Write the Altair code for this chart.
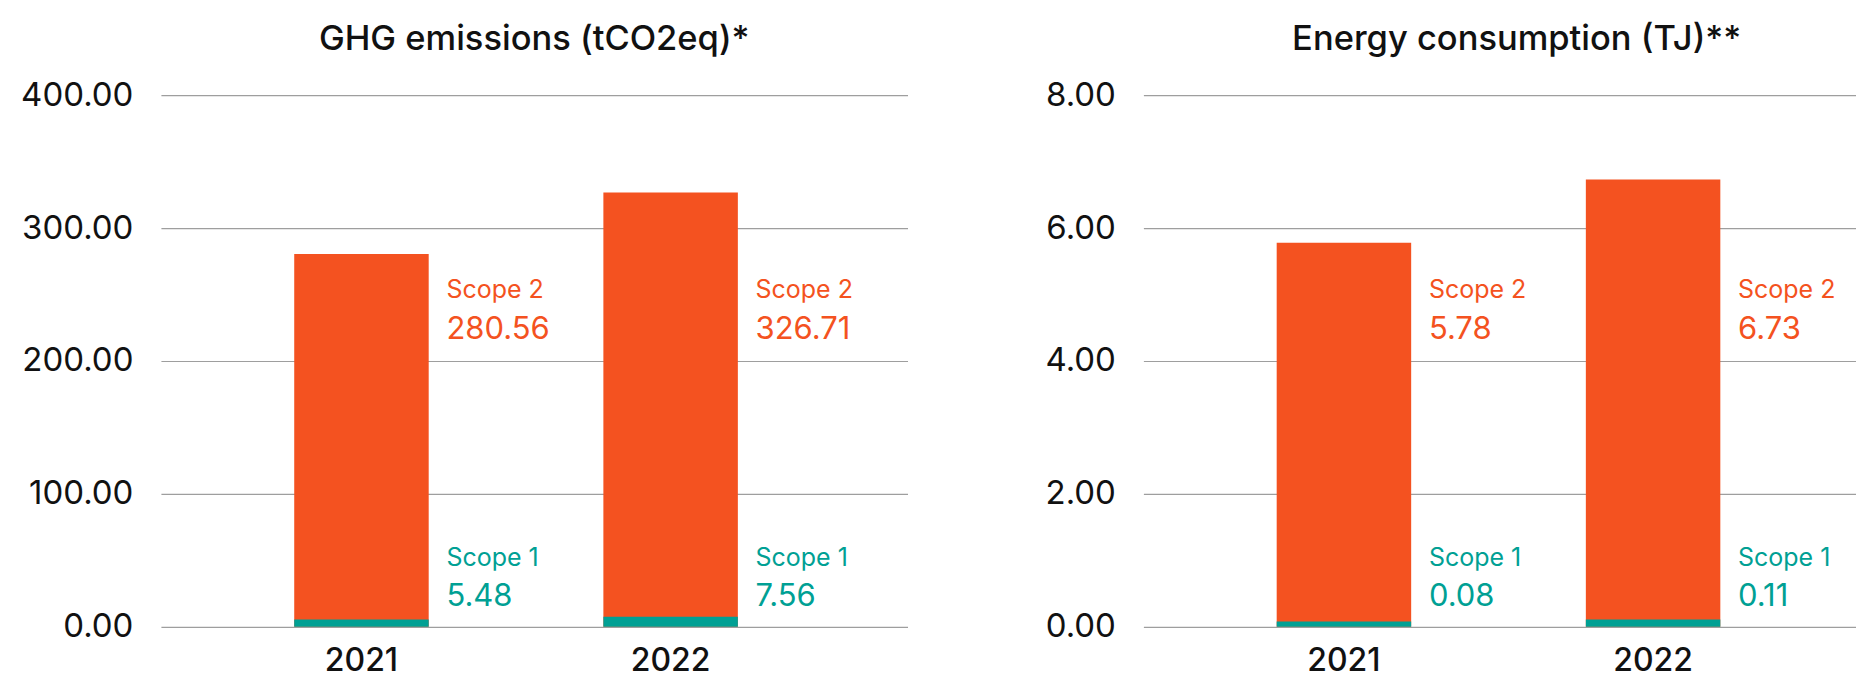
import altair as alt
import pandas as pd

years = ["2021", "2022"]
ghg_scope1 = [5.48, 7.56]
ghg_scope2 = [280.56, 326.71]
energy_scope1 = [0.08, 0.11]
energy_scope2 = [5.78, 6.73]
ghg_ticks = [0, 100, 200, 300, 400]
energy_ticks = [0, 2, 4, 6, 8]
ghg_title = "GHG emissions (tCO2eq)*"
energy_title = "Energy consumption (TJ)**"

ORANGE = "#F45220"
TEAL = "#00A094"
INK = "#111111"
FONT = "Inter"


def panel(title, s1, s2, ticks, width):
    df = pd.DataFrame({"year": years, "s1": s1, "s2": s2})
    base = alt.Chart(df).encode(
        x=alt.X(
            "year:N",
            sort=years,
            scale=alt.Scale(paddingInner=0.565, paddingOuter=0.49, align=0.44),
            axis=alt.Axis(
                title=None, labelAngle=0, labelFontSize=32, labelFont=FONT,
                labelColor=INK, labelFontWeight=500, labelPadding=19,
                ticks=False, domain=False, grid=False,
            ),
        )
    )
    ysc = alt.Scale(domain=[ticks[0], ticks[-1]], nice=False)
    yax = alt.Axis(
        title=None, values=ticks, format=".2f", labelFontSize=33, labelFont=FONT,
        labelColor=INK, labelPadding=28, ticks=False, domain=False, grid=True,
        gridColor="#9e9e9e", gridWidth=1.2,
    )
    bar2 = base.mark_bar(color=ORANGE).encode(y=alt.Y("s2:Q", scale=ysc, axis=yax))
    bar1 = base.mark_bar(color=TEAL).encode(y=alt.Y("s1:Q", scale=ysc))

    def label(txt, ypix, color):
        return base.mark_text(
            align="left", baseline="alphabetic", dx=85, fontSize=25,
            font=FONT, color=color, text=txt,
        ).encode(y=alt.value(ypix))

    def value(field, ypix, color):
        return base.mark_text(
            align="left", baseline="alphabetic", dx=85, fontSize=31,
            font=FONT, color=color,
        ).encode(y=alt.value(ypix), text=alt.Text(f"{field}:Q", format=".2f"))

    return alt.layer(
        bar2, bar1,
        label("Scope 2", 203, ORANGE),
        value("s2", 244, ORANGE),
        label("Scope 1", 471, TEAL),
        value("s1", 511, TEAL),
    ).properties(
        width=width,
        height=532,
        title=alt.TitleParams(
            title, fontSize=34.5, font=FONT, fontWeight=500, color=INK,
            offset=22, anchor="middle",
        ),
    )


left = panel(ghg_title, ghg_scope1, ghg_scope2, ghg_ticks, 747)
right = panel(energy_title, energy_scope1, energy_scope2, energy_ticks, 747)

chart = (
    alt.hconcat(left, right, spacing=137)
    .properties(padding={"left": 12, "top": 13, "right": -34, "bottom": 1}, background="white")
    .configure_view(stroke=None)
)

chart.save("out.html", embed_options={"renderer": "svg", "actions": False})
